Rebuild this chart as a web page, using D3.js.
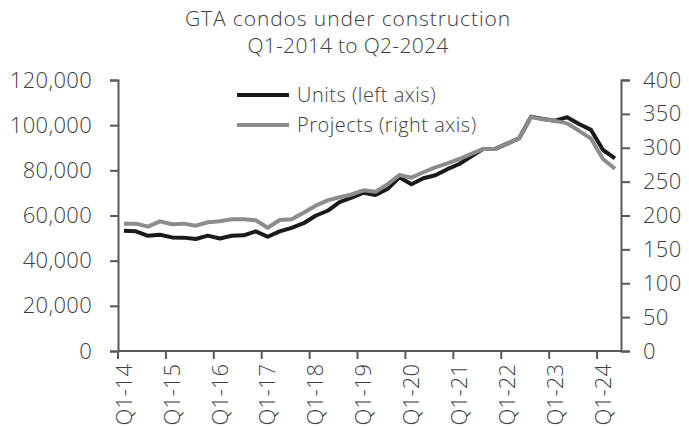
<!DOCTYPE html>
<html>
<head>
<meta charset="utf-8">
<script src="https://cdn.jsdelivr.net/npm/d3@7"></script>
<style>
  body { margin: 0; background: #fff; }
  text { font-family: "Open Sans", sans-serif; font-weight: 300; fill: #404040; }
</style>
</head>
<body>
<svg id="chart"></svg>
<script>
let width = 689,
    height = 428;

// quarters Q1-2014 .. Q2-2024
let quarters = [];
for (let y = 2014; y <= 2024; y++) {
    for (let q = 1; q <= 4; q++) {
        if (y == 2024 && q > 2) break;
        quarters.push("Q" + q + "-" + String(y).slice(2));
    }
}

// condo units under construction (left axis)
let units = [53300, 53000, 51000, 51500, 50300, 50200, 49600, 51100, 49800, 51000,
    51200, 53000, 50600, 53000, 54500, 56600, 59900, 62100, 65900, 67900,
    70100, 69100, 71700, 76900, 73800, 76500, 77800, 80500, 82800, 86200,
    89500, 89500, 91800, 94200, 103800, 102700, 102000, 103500, 100500, 97900,
    89000, 85300];

// condo projects under construction (right axis)
let projects = [188, 188, 183.5, 191.4, 187, 188, 185, 190, 191.4, 194.6,
    194.4, 193, 182, 193.4, 194.4, 204, 214.5, 222.4, 226.9, 231,
    237.2, 235.1, 246, 259.8, 255.8, 263.8, 271.1, 277, 283.4, 291,
    298.2, 298.2, 306, 314, 345.5, 342, 339.7, 336, 325, 313.4,
    283.4, 269];

let leftTicks = [0, 20000, 40000, 60000, 80000, 100000, 120000];
let rightTicks = [0, 50, 100, 150, 200, 250, 300, 350, 400];
let titleLines = ["GTA condos under construction", "Q1-2014 to Q2-2024"];
let legendText = ["Units (left axis)", "Projects (right axis)"];

let plotLeft = 118, plotRight = 621, plotTop = 80, plotBottom = 351;

let svg = d3.select("#chart")
    .attr("width", width)
    .attr("height", height);

let x = d3.scaleBand()
    .domain(quarters)
    .range([plotLeft, plotRight]);

let yL = d3.scaleLinear().domain([0, 120000]).range([plotBottom, plotTop]);
let yR = d3.scaleLinear().domain([0, 400]).range([plotBottom, plotTop]);

let cx = function(q) { return x(q) + x.bandwidth() / 2; };

// title
svg.append("g").selectAll("text")
    .data(titleLines)
    .enter().append("text")
    .attr("x", 348)
    .attr("y", function(d, i) { return 26 + i * 27; })
    .attr("text-anchor", "middle")
    .style("font-size", "21px")
    .style("letter-spacing", function(d, i) { return i == 0 ? "0.9px" : "0.3px"; })
    .text(function(d) { return d; });

// axes
let axisColor = "#595959";

let gL = svg.append("g")
    .attr("transform", "translate(" + plotLeft + ",0)")
    .call(d3.axisLeft(yL).tickValues(leftTicks).tickSize(8).tickPadding(18)
        .tickFormat(d3.format(",")));

let gR = svg.append("g")
    .attr("transform", "translate(" + plotRight + ",0)")
    .call(d3.axisRight(yR).tickValues(rightTicks).tickSize(9).tickPadding(13));

[gL, gR].forEach(function(g) {
    g.select(".domain").attr("stroke", axisColor).attr("stroke-width", 2);
    g.selectAll(".tick line").attr("stroke", axisColor).attr("stroke-width", 2);
    g.selectAll(".tick text")
        .attr("fill", "#404040")
        .style("font-family", "'Open Sans', sans-serif")
        .style("font-weight", 300)
        .style("font-size", "22px")
        .style("letter-spacing", "0.3px");
});

// x axis line
svg.append("line")
    .attr("x1", plotLeft).attr("x2", plotRight)
    .attr("y1", plotBottom).attr("y2", plotBottom)
    .attr("stroke", axisColor)
    .attr("stroke-width", 2);

let yearStarts = quarters.filter(function(d, i) { return i % 4 == 0; });

svg.append("g").selectAll("line")
    .data(yearStarts)
    .enter().append("line")
    .attr("x1", function(d) { return x(d); })
    .attr("x2", function(d) { return x(d); })
    .attr("y1", plotBottom)
    .attr("y2", plotBottom + 8)
    .attr("stroke", axisColor)
    .attr("stroke-width", 2);

svg.append("g").selectAll("text")
    .data(yearStarts)
    .enter().append("text")
    .attr("transform", function(d) { return "translate(" + cx(d) + "," + (plotBottom + 13) + ") rotate(-90)"; })
    .attr("text-anchor", "end")
    .attr("dy", "0.35em")
    .style("font-size", "22px")
    .text(function(d) { return d; });

// lines
let lineL = d3.line()
    .x(function(d, i) { return cx(quarters[i]); })
    .y(function(d) { return yL(d); });

let lineR = d3.line()
    .x(function(d, i) { return cx(quarters[i]); })
    .y(function(d) { return yR(d); });

let colors = ["#1a1a1a", "#8c8c8c"];

svg.append("path")
    .datum(units)
    .attr("d", lineL)
    .attr("fill", "none")
    .attr("stroke", colors[0])
    .attr("stroke-width", 4)
    .attr("stroke-linejoin", "round");

svg.append("path")
    .datum(projects)
    .attr("d", lineR)
    .attr("fill", "none")
    .attr("stroke", colors[1])
    .attr("stroke-width", 4)
    .attr("stroke-linejoin", "round");

// legend
let legend = svg.append("g").selectAll("g")
    .data(legendText)
    .enter().append("g")
    .attr("transform", function(d, i) { return "translate(237," + (95 + i * 30) + ")"; });

legend.append("line")
    .attr("x1", 0).attr("x2", 52)
    .attr("stroke", function(d, i) { return colors[i]; })
    .attr("stroke-width", 4);

legend.append("text")
    .attr("x", 60)
    .attr("dy", "0.35em")
    .style("font-size", "20px")
    .style("letter-spacing", "0.5px")
    .text(function(d) { return d; });
</script>
</body>
</html>
